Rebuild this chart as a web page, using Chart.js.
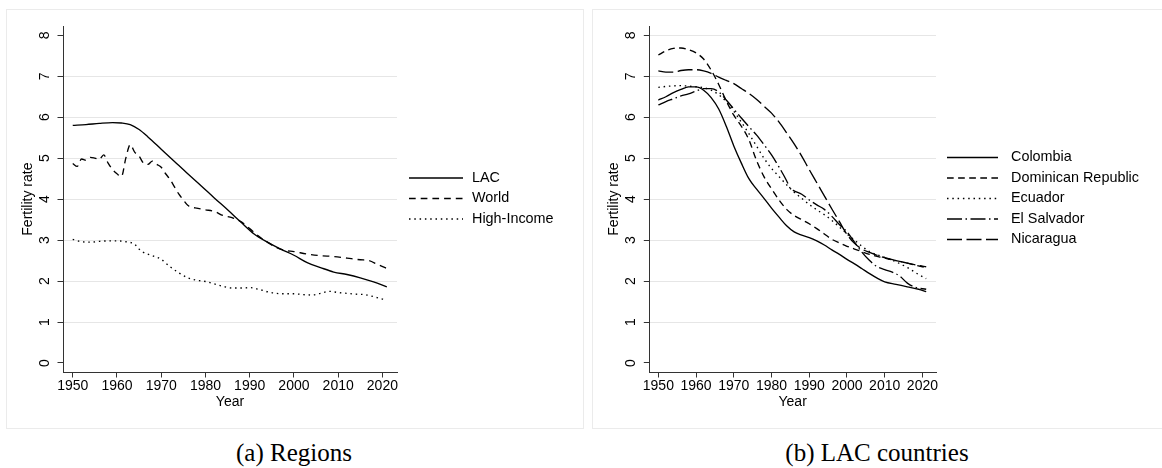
<!DOCTYPE html>
<html>
<head>
<meta charset="utf-8">
<script src="https://cdn.jsdelivr.net/npm/chart.js@4.4.1/dist/chart.umd.min.js"></script>
<style>
html,body{margin:0;padding:0;background:#fff;}
body{width:1162px;height:468px;overflow:hidden;position:relative;}
.panel{position:absolute;top:9px;height:420px;border:1px solid #ebebeb;box-sizing:border-box;}
canvas{position:absolute;top:9px;}
.cap{position:absolute;top:438px;font-family:"Liberation Serif","Times New Roman",serif;font-size:25px;color:#000;text-align:center;white-space:nowrap;line-height:30px;}
</style>
</head>
<body>
<div class="panel" style="left:6px;width:578px;"></div>
<div class="panel" style="left:592px;width:580px;"></div>
<canvas id="c1" width="577" height="420" style="left:6px;"></canvas>
<canvas id="c2" width="570" height="420" style="left:592px;"></canvas>
<div class="cap" style="left:194px;width:200px;">(a) Regions</div>
<div class="cap" style="left:757px;width:240px;">(b) LAC countries</div>
<script>
// ---------- tick labels ----------
const xTicks = [1950, 1960, 1970, 1980, 1990, 2000, 2010, 2020];
const xTickLabels = ['1950', '1960', '1970', '1980', '1990', '2000', '2010', '2020'];
const yTicks = [0, 1, 2, 3, 4, 5, 6, 7, 8];
const yTickLabels = ['0', '1', '2', '3', '4', '5', '6', '7', '8'];

// ---------- panel (a) Regions ----------
const regionNames = ['LAC', 'World', 'High-Income'];
const lacYears = [1950, 1953, 1956, 1959, 1961, 1963, 1965, 1967, 1970, 1973, 1976, 1979, 1982, 1985, 1988, 1991, 1994, 1997, 2000, 2003, 2006, 2009, 2012, 2015, 2018, 2021];
const lacValues = [5.80, 5.82, 5.85, 5.87, 5.86, 5.82, 5.70, 5.52, 5.22, 4.92, 4.62, 4.33, 4.03, 3.74, 3.44, 3.15, 2.95, 2.78, 2.63, 2.45, 2.33, 2.22, 2.16, 2.08, 1.98, 1.86];
const worldYears = [1950, 1951, 1952, 1953, 1954, 1955, 1956, 1957, 1958, 1959, 1960, 1961, 1962, 1963, 1964, 1965, 1966, 1967, 1968, 1969, 1970, 1971, 1972, 1973, 1974, 1975, 1976, 1977, 1978, 1980, 1982, 1984, 1986, 1988, 1990, 1992, 1994, 1996, 1998, 2000, 2003, 2006, 2009, 2012, 2015, 2017, 2019, 2021];
const worldValues = [4.87, 4.80, 4.98, 4.95, 5.02, 5.00, 4.97, 5.08, 4.88, 4.72, 4.62, 4.55, 5.00, 5.33, 5.15, 5.05, 4.88, 4.85, 4.93, 4.85, 4.78, 4.62, 4.48, 4.30, 4.12, 3.98, 3.85, 3.80, 3.78, 3.74, 3.70, 3.60, 3.55, 3.45, 3.28, 3.10, 2.95, 2.82, 2.75, 2.72, 2.66, 2.62, 2.60, 2.56, 2.52, 2.50, 2.40, 2.31];
const hiYears = [1950, 1952, 1954, 1956, 1958, 1960, 1962, 1964, 1965, 1966, 1968, 1970, 1972, 1974, 1976, 1978, 1980, 1982, 1984, 1986, 1988, 1990, 1992, 1994, 1996, 1998, 2000, 2002, 2004, 2006, 2008, 2010, 2012, 2014, 2016, 2018, 2020, 2021];
const hiValues = [3.02, 2.96, 2.95, 2.97, 2.98, 2.98, 2.96, 2.90, 2.78, 2.70, 2.62, 2.53, 2.35, 2.20, 2.08, 2.02, 1.99, 1.93, 1.87, 1.83, 1.83, 1.84, 1.80, 1.74, 1.70, 1.69, 1.69, 1.67, 1.66, 1.70, 1.75, 1.72, 1.70, 1.68, 1.67, 1.62, 1.56, 1.55];

// ---------- panel (b) LAC countries ----------
const countryNames = ['Colombia', 'Dominican Republic', 'Ecuador', 'El Salvador', 'Nicaragua'];
const colYears = [1950, 1952, 1954, 1956, 1958, 1960, 1962, 1964, 1966, 1968, 1970, 1972, 1974, 1976, 1978, 1980, 1982, 1984, 1986, 1988, 1990, 1992, 1994, 1996, 1998, 2000, 2002, 2004, 2006, 2008, 2010, 2013, 2016, 2019, 2021];
const colValues = [6.42, 6.50, 6.60, 6.68, 6.74, 6.74, 6.66, 6.48, 6.20, 5.78, 5.30, 4.88, 4.50, 4.25, 4.02, 3.78, 3.56, 3.35, 3.20, 3.12, 3.06, 2.98, 2.88, 2.76, 2.65, 2.53, 2.42, 2.30, 2.18, 2.07, 1.98, 1.92, 1.86, 1.80, 1.74];
const domYears = [1950, 1952, 1954, 1956, 1958, 1960, 1962, 1964, 1966, 1968, 1970, 1972, 1974, 1976, 1978, 1980, 1982, 1984, 1986, 1988, 1990, 1992, 1994, 1996, 1998, 2000, 2003, 2006, 2009, 2012, 2015, 2018, 2021];
const domValues = [7.52, 7.62, 7.68, 7.69, 7.65, 7.57, 7.42, 7.15, 6.80, 6.40, 6.05, 5.78, 5.45, 4.95, 4.55, 4.25, 3.98, 3.75, 3.60, 3.50, 3.40, 3.28, 3.15, 3.02, 2.93, 2.85, 2.75, 2.65, 2.58, 2.52, 2.46, 2.39, 2.33];
const ecuYears = [1950, 1953, 1956, 1959, 1962, 1964, 1966, 1968, 1970, 1972, 1974, 1976, 1978, 1980, 1982, 1984, 1986, 1988, 1990, 1992, 1994, 1996, 1998, 2000, 2002, 2004, 2006, 2008, 2010, 2013, 2016, 2019, 2021];
const ecuValues = [6.73, 6.76, 6.77, 6.75, 6.72, 6.66, 6.55, 6.38, 6.15, 5.88, 5.60, 5.30, 5.00, 4.75, 4.55, 4.35, 4.17, 4.02, 3.87, 3.74, 3.62, 3.48, 3.32, 3.15, 3.00, 2.85, 2.72, 2.64, 2.58, 2.47, 2.33, 2.16, 2.06];
const slvYears = [1950, 1952, 1954, 1956, 1958, 1960, 1962, 1964, 1966, 1968, 1970, 1972, 1974, 1976, 1978, 1980, 1982, 1984, 1985, 1986, 1988, 1990, 1992, 1994, 1996, 1998, 2000, 2002, 2004, 2006, 2008, 2010, 2012, 2014, 2016, 2018, 2021];
const slvValues = [6.30, 6.38, 6.45, 6.52, 6.57, 6.64, 6.70, 6.70, 6.62, 6.42, 6.20, 5.98, 5.77, 5.57, 5.33, 5.08, 4.78, 4.45, 4.26, 4.20, 4.12, 3.98, 3.86, 3.75, 3.58, 3.38, 3.20, 2.95, 2.70, 2.50, 2.35, 2.28, 2.22, 2.12, 1.95, 1.85, 1.80];
const nicYears = [1950, 1952, 1954, 1956, 1958, 1960, 1962, 1964, 1966, 1968, 1970, 1972, 1974, 1976, 1978, 1980, 1982, 1984, 1986, 1988, 1990, 1992, 1994, 1996, 1998, 2000, 2002, 2004, 2006, 2008, 2010, 2013, 2016, 2019, 2021];
const nicValues = [7.13, 7.10, 7.10, 7.14, 7.16, 7.16, 7.13, 7.07, 6.98, 6.90, 6.82, 6.70, 6.58, 6.44, 6.27, 6.10, 5.88, 5.62, 5.35, 5.05, 4.72, 4.40, 4.08, 3.76, 3.45, 3.14, 2.92, 2.78, 2.70, 2.63, 2.57, 2.50, 2.44, 2.38, 2.35];

// ---------- helpers ----------
const pts = (xs, ys) => xs.map((x, i) => ({x: x, y: ys[i]}));
const FONT = 'Liberation Sans';

function line(label, xs, ys, dash) {
  return {
    label: label, data: pts(xs, ys), borderColor: '#000', borderWidth: 1.35,
    borderDash: dash, pointRadius: 0, fill: false, cubicInterpolationMode: 'monotone'
  };
}

const sideLegend = {
  id: 'sideLegend',
  afterDraw(chart, args, o) {
    const ctx = chart.ctx;
    const ds = chart.data.datasets;
    const n = ds.length;
    ctx.save();
    ctx.font = '14.4px "' + FONT + '"';
    ctx.textBaseline = 'middle';
    ctx.textAlign = 'left';
    ctx.fillStyle = '#000';
    ds.forEach((d, i) => {
      const y = o.yCenter + (i - (n - 1) / 2) * o.rowGap;
      ctx.beginPath();
      ctx.setLineDash(d.borderDash || []);
      ctx.lineWidth = d.borderWidth;
      ctx.strokeStyle = d.borderColor;
      ctx.moveTo(o.x0, y);
      ctx.lineTo(o.x0 + o.w, y);
      ctx.stroke();
      ctx.setLineDash([]);
      ctx.fillText(d.label, o.textX, y);
    });
    ctx.restore();
  }
};

function makeOptions(xmin, xmax, yAxisW, rightPad, gridVals, legendOpts) {
  return {
    responsive: false, animation: false, events: [],
    layout: {padding: {left: 0, top: 15, right: rightPad, bottom: 0}},
    plugins: {legend: {display: false}, tooltip: {enabled: false}, sideLegend: legendOpts},
    scales: {
      x: {
        type: 'linear', min: xmin, max: xmax,
        afterBuildTicks: s => { s.ticks = xTicks.map(v => ({value: v})); },
        afterFit: s => { s.height = 57; },
        grid: {drawOnChartArea: false, drawTicks: true, tickLength: 5.5, tickColor: '#333', tickWidth: 1},
        border: {display: true, color: '#333', width: 1},
        ticks: {padding: 0, color: '#000', font: {family: FONT, size: 14}, maxRotation: 0, minRotation: 0, autoSkip: false,
                callback: (v, i) => xTickLabels[i]},
        title: {display: true, text: 'Year', color: '#000', font: {family: FONT, size: 14}, padding: {top: 0, bottom: 18.9}}
      },
      y: {
        type: 'linear', min: -0.22, max: 8.22,
        afterBuildTicks: s => { s.ticks = yTicks.map(v => ({value: v})); },
        afterFit: s => { s.width = yAxisW; },
        grid: {drawTicks: true, tickLength: 5.5, tickColor: '#333', tickWidth: 1, lineWidth: 1,
               color: c => (c.tick && gridVals.includes(c.tick.value)) ? '#e6e6e6' : 'rgba(0,0,0,0)'},
        border: {display: true, color: '#333', width: 1},
        ticks: {padding: 8.9, color: '#000', font: {family: FONT, size: 14}, minRotation: 90, maxRotation: 90,
                crossAlign: 'center', autoSkip: false, callback: (v, i) => yTickLabels[i]},
        title: {display: true, text: 'Fertility rate', color: '#000', font: {family: FONT, size: 14}, padding: {top: 13.6, bottom: 0}}
      }
    }
  };
}

new Chart(document.getElementById('c1'), {
  type: 'line',
  data: {datasets: [
    line(regionNames[0], lacYears, lacValues, []),
    line(regionNames[1], worldYears, worldValues, [6.7, 5]),
    line(regionNames[2], hiYears, hiValues, [1.5, 3.8])
  ]},
  options: makeOptions(1947.8, 2023.3, 57, 186, [1, 2, 3, 4, 5, 6, 7],
    {x0: 403, w: 54, textX: 466, yCenter: 189.5, rowGap: 20.5}),
  plugins: [sideLegend]
});

new Chart(document.getElementById('c2'), {
  type: 'line',
  data: {datasets: [
    line(countryNames[0], colYears, colValues, []),
    line(countryNames[1], domYears, domValues, [6.7, 4.4]),
    line(countryNames[2], ecuYears, ecuValues, [1.5, 3.8]),
    line(countryNames[3], slvYears, slvValues, [15, 3.5, 1.5, 3.5]),
    line(countryNames[4], nicYears, nicValues, [15, 4.5])
  ]},
  options: makeOptions(1947.6, 2023.6, 57.3, 226, [1, 2, 3, 4, 5, 6, 7, 8],
    {x0: 355, w: 51, textX: 419, yCenter: 189.5, rowGap: 20.5}),
  plugins: [sideLegend]
});
</script>
</body>
</html>
